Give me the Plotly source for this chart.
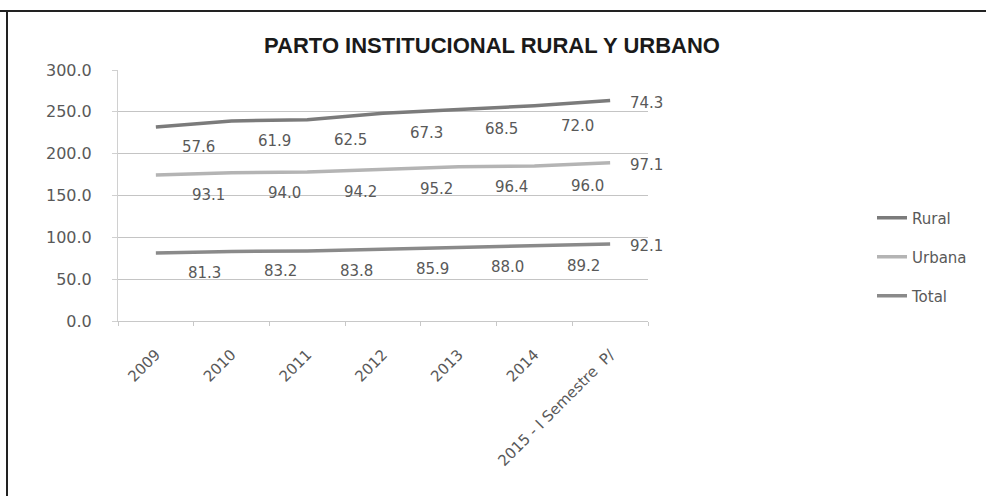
import plotly.graph_objects as go

categories = ["2009", "2010", "2011", "2012", "2013", "2014", "2015 - I Semestre  P/"]
rural = [57.6, 61.9, 62.5, 67.3, 68.5, 72.0, 74.3]
urbana = [93.1, 94.0, 94.2, 95.2, 96.4, 96.0, 97.1]
total = [81.3, 83.2, 83.8, 85.9, 88.0, 89.2, 92.1]
y_ticks = [0, 50, 100, 150, 200, 250, 300]

W, H = 986, 496
L, R, T, B = 118, 338, 70, 175
pw, ph = W - L - R, H - T - B

def px_x(px):
    return (px - L) / pw

def px_y(py):
    return (H - B - py) / ph

font_fam = "DejaVu Sans"
label_color = "#595959"

# (name, values, colour, legend id, label x-shift in px)
series = [("Total", total, "#8a8a8a", "legend3", 49),
          ("Urbana", urbana, "#b4b4b4", "legend2", 53),
          ("Rural", rural, "#7b7b7b", "legend", 43)]

fig = go.Figure()
n = len(categories)
annotations = []
base = [0.0] * n
for name, vals, col, leg, xs in series:
    fig.add_trace(go.Scatter(
        x=categories, y=vals, name=name, stackgroup="s", fill="none",
        mode="lines", line=dict(color=col, width=3.5),
        legend=leg, hoverinfo="skip",
    ))
    top = [b + v for b, v in zip(base, vals)]
    for i, (v, t) in enumerate(zip(vals, top)):
        last = i == n - 1
        annotations.append(dict(
            x=i, y=t, xref="x", yref="y", text=f"{v:.1f}", showarrow=False,
            xanchor="left" if last else "center", yanchor="middle",
            xshift=18 if last else xs, yshift=-2 if last else -20,
            font=dict(family=font_fam, size=15, color=label_color),
        ))
    base = top

leg_common = dict(xref="container", yref="container", x=872 / W, xanchor="left",
                  yanchor="middle", font=dict(family=font_fam, size=15, color=label_color),
                  bgcolor="rgba(0,0,0,0)")
fig.update_layout(
    width=W, height=H,
    margin=dict(l=L, r=R, t=T, b=B, autoexpand=False),
    paper_bgcolor="white", plot_bgcolor="white",
    title=dict(text="<b>PARTO INSTITUCIONAL RURAL Y URBANO</b>", x=492 / W, xanchor="center",
               y=1 - 45 / H, yanchor="middle", yref="container",
               font=dict(family="Liberation Sans", size=22, color="#1a1a1a")),
    xaxis=dict(type="category", range=[-0.5, n - 0.5], tickangle=-45,
               showline=True, linecolor="#c8c8c8", showgrid=False, zeroline=False,
               tickson="boundaries", ticks="outside", ticklen=4, tickcolor="#c8c8c8",
               automargin=False, ticklabelstandoff=18,
               tickfont=dict(family=font_fam, size=15, color=label_color)),
    yaxis=dict(range=[0, 300], tickvals=y_ticks, tickformat=".1f",
               showgrid=True, gridcolor="#c4c4c4", gridwidth=1, zeroline=False,
               showline=True, linecolor="#d0d0d0", ticks="outside", ticklen=5,
               tickcolor="#d0d0d0", ticklabelstandoff=17, automargin=False,
               tickfont=dict(family=font_fam, size=16, color=label_color)),
    legend=dict(y=1 - 218 / H, **leg_common),
    legend2=dict(y=1 - 257 / H, **leg_common),
    legend3=dict(y=1 - 296 / H, **leg_common),
    showlegend=True,
    annotations=annotations,
    shapes=[
        dict(type="line", xref="paper", yref="paper", x0=px_x(0), x1=px_x(986),
             y0=px_y(11), y1=px_y(11), line=dict(color="#222", width=2)),
        dict(type="line", xref="paper", yref="paper", x0=px_x(7), x1=px_x(7),
             y0=px_y(11), y1=px_y(496), line=dict(color="#222", width=2)),
    ],
)

fig.write_html("out.html", config={"displayModeBar": False},
               post_script="document.body.style.margin='0';")
